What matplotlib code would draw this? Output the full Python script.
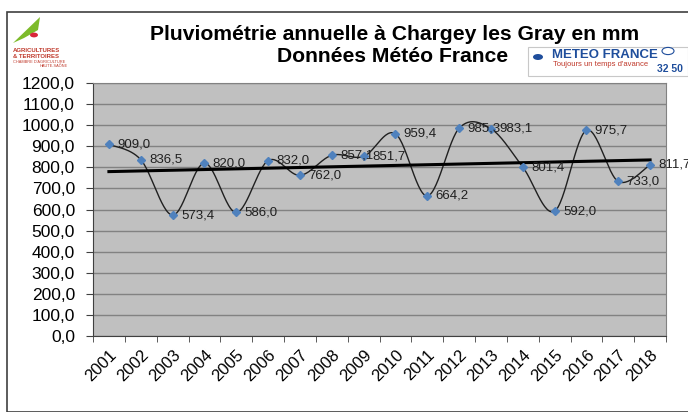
import numpy as np
import matplotlib.pyplot as plt
from matplotlib.patches import Rectangle, Polygon, Circle

plt.rcParams['font.family'] = ['Liberation Sans', 'DejaVu Sans']

# --- data ---
years = [str(y) for y in range(2001, 2019)]
rain = [909.0, 836.5, 573.4, 820.0, 586.0, 832.0, 762.0, 857.1, 851.7,
        959.4, 664.2, 985.3, 983.1, 801.4, 592.0, 975.7, 733.0, 811.7]
yticks = np.arange(0, 1201, 100)

W, H = 688, 412


def smooth(x, y, n=30, t=0.5):
    # Catmull-Rom style smoothing, close to Excel's "smoothed line"
    x = np.asarray(x, float)
    y = np.asarray(y, float)
    px = np.concatenate([[x[0]], x, [x[-1]]])
    py = np.concatenate([[y[0]], y, [y[-1]]])
    xs, ys = [], []
    for i in range(1, len(px) - 2):
        p0, p1, p2, p3 = (np.array([px[j], py[j]]) for j in (i - 1, i, i + 1, i + 2))
        c1 = p1 + (p2 - p0) * t / 3
        c2 = p2 - (p3 - p1) * t / 3
        s = np.linspace(0, 1, n)[:, None]
        b = ((1 - s) ** 3) * p1 + 3 * ((1 - s) ** 2) * s * c1 + 3 * (1 - s) * s ** 2 * c2 + s ** 3 * p2
        xs.append(b[:, 0])
        ys.append(b[:, 1])
    return np.concatenate(xs), np.concatenate(ys)


def fx(px):
    return px / W


def fy(py):
    return 1 - py / H


fig = plt.figure(figsize=(W / 100, H / 100), dpi=100)
fig.patches.append(Rectangle((fx(7), 0), 1, fy(12), transform=fig.transFigure,
                             fill=False, edgecolor='#404040', linewidth=1.2))

ax = fig.add_axes([fx(93), fy(336), (666 - 93) / W, (336 - 83) / H])
ax.set_facecolor('#c0c0c0')

x = np.arange(len(years))
sx, sy = smooth(x, rain)
ax.plot(sx, sy, color='#202020', linewidth=1.0, zorder=3)
ax.plot(x, rain, linestyle='none', marker='D', markersize=4.5,
        color='#4f81bd', zorder=4)

# linear trend
k, b = np.polyfit(x, rain, 1)
ax.plot(x, k * x + b, color='black', linewidth=2.2, zorder=3)

for xi, v in zip(x, rain):
    ax.annotate(f"{v:.1f}".replace('.', ','), (xi, v), xytext=(6, 0),
                textcoords='offset points', fontsize=9.5, color='#202020',
                va='center', ha='left', zorder=5, annotation_clip=False)

ax.set_xlim(-0.5, len(years) - 0.5)
ax.set_ylim(0, 1200)
ax.set_yticks(yticks)
ax.set_yticklabels([f"{v:.1f}".replace('.', ',') for v in yticks], fontsize=12.5)
ax.set_xticks(x)
ax.set_xticklabels(years, rotation=45, ha='right', rotation_mode='anchor', fontsize=12)
ax.set_xticks(np.arange(-0.5, len(years)), minor=True)
ax.tick_params(axis='x', which='major', length=0, pad=8)
ax.tick_params(axis='x', which='minor', length=4, color='#404040')
ax.tick_params(axis='y', length=5, color='#404040', pad=8)
ax.grid(axis='y', color='#828282', linewidth=1.0)
ax.set_axisbelow(True)
for s in ['top', 'right']:
    ax.spines[s].set_color('#828282')
for s in ['left', 'bottom']:
    ax.spines[s].set_color('#404040')

# titles
fig.text(fx(395), fy(34), "Pluviométrie annuelle à Chargey les Gray en mm",
         ha='center', va='center', fontsize=15.2, fontweight='bold')
fig.text(fx(393), fy(57), "Données Météo France",
         ha='center', va='center', fontsize=15.2, fontweight='bold')

# left logo (approximation)
fig.patches.append(Polygon([(fx(13), fy(43)), (fx(40), fy(17)), (fx(38), fy(30)), (fx(24), fy(38))],
                           closed=True, transform=fig.transFigure, facecolor='#7dbb2a',
                           edgecolor='none'))
fig.patches.append(Circle((fx(34), fy(35)), 4 / W, transform=fig.transFigure,
                          facecolor='#d9263a', edgecolor='none'))
fig.text(fx(13), fy(50), "AGRICULTURES", fontsize=4.3, color='#c0392b',
         fontweight='bold', va='center')
fig.text(fx(13), fy(56), "& TERRITOIRES", fontsize=4.3, color='#c0392b',
         fontweight='bold', va='center')
fig.text(fx(13), fy(62), "CHAMBRE D'AGRICULTURE", fontsize=2.8, color='#c0392b',
         va='center')
fig.text(fx(68), fy(66), "HAUTE-SAÔNE", fontsize=2.8, color='#c0392b',
         va='center', ha='right')

# Meteo France logo (approximation)
fig.patches.append(Rectangle((fx(528), fy(76)), (688 - 528) / W, 29 / H,
                             transform=fig.transFigure, facecolor='white',
                             edgecolor='#c8c8c8', linewidth=0.8, zorder=5))
fig.patches.append(Circle((fx(538), fy(57)), 5 / W, transform=fig.transFigure,
                          facecolor='#1f4e9c', edgecolor='none', zorder=6))
fig.text(fx(552), fy(55), "METEO FRANCE", fontsize=9.5, fontweight='bold',
         color='#1f4e9c', va='center', zorder=6)
fig.text(fx(553), fy(65), "Toujours un temps d'avance", fontsize=5.5,
         color='#c0392b', va='center', zorder=6)
fig.text(fx(657), fy(69), "32 50", fontsize=7.5, fontweight='bold',
         color='#1f4e9c', va='center', zorder=6)
fig.patches.append(Circle((fx(668), fy(51)), 6 / W, transform=fig.transFigure,
                          fill=False, edgecolor='#1f4e9c', linewidth=0.8, zorder=6))

fig.savefig('out.png', dpi=100)
